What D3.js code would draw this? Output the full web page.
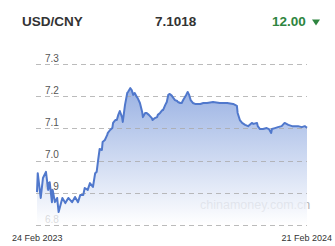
<!DOCTYPE html>
<html>
<head>
<meta charset="utf-8">
<script src="https://cdn.jsdelivr.net/npm/d3@7"></script>
<style>
  body { margin: 0; background: #fff; }
  svg { display: block; font-family: "Liberation Sans", Arial, sans-serif; }
</style>
</head>
<body>
<div id="chart"></div>
<script>
// days since 24 Feb 2023, and the USD/CNY rate on that day
var days = [0, 1, 5, 8, 12, 15, 17, 20, 21, 24, 27, 29, 34, 38, 42, 47, 51, 55, 58, 62,
  64, 68, 71, 75, 78, 80, 82, 84, 87, 88, 91, 94, 95, 98, 101, 102, 105, 107, 109, 111,
  114, 115, 118, 121, 122, 125, 127, 129, 131, 134, 135, 138, 141, 142, 145, 147, 150, 154, 155, 158,
  161, 162, 165, 168, 169, 172, 174, 176, 178, 181, 182, 185, 188, 189, 192, 194, 196, 200, 202, 204,
  206, 209, 212, 219, 223, 228, 236, 245, 255, 263, 268, 269, 272, 275, 279, 283, 288, 290, 295, 296,
  299, 303, 308, 311, 314, 315, 319, 323, 328, 332, 337, 342, 346, 350, 355, 359, 362];
var rates = [6.902, 6.961, 6.884, 6.946, 6.965, 6.909, 6.933, 6.871, 6.909, 6.871, 6.884, 6.840, 6.884, 6.868, 6.884, 6.871, 6.887, 6.871, 6.893, 6.893,
  6.915, 6.909, 6.930, 6.918, 6.961, 6.965, 7.002, 7.036, 7.033, 7.058, 7.064, 7.079, 7.086, 7.095, 7.101, 7.117, 7.126, 7.126, 7.142, 7.154,
  7.135, 7.120, 7.173, 7.210, 7.213, 7.225, 7.219, 7.204, 7.210, 7.197, 7.194, 7.179, 7.151, 7.135, 7.148, 7.148, 7.142, 7.132, 7.126, 7.132,
  7.135, 7.142, 7.148, 7.157, 7.157, 7.173, 7.182, 7.204, 7.207, 7.201, 7.197, 7.188, 7.185, 7.182, 7.179, 7.179, 7.188, 7.204, 7.213, 7.204,
  7.188, 7.179, 7.176, 7.176, 7.179, 7.179, 7.182, 7.179, 7.179, 7.176, 7.170, 7.148, 7.126, 7.117, 7.111, 7.107, 7.117, 7.114, 7.117, 7.107,
  7.098, 7.098, 7.101, 7.098, 7.086, 7.098, 7.101, 7.104, 7.107, 7.117, 7.111, 7.107, 7.107, 7.107, 7.104, 7.107, 7.102];
var yTicks = [6.8, 6.9, 7.0, 7.1, 7.2, 7.3];
var startDate = new Date(2023, 1, 24);
var dateLabels = ["24 Feb 2023", "21 Feb 2024"];
var pair = "USD/CNY", lastRate = "7.1018", change = "12.00";

var width = 335, height = 246;
var svg = d3.select("#chart").append("svg")
  .attr("width", width)
  .attr("height", height);

var data = days.map(function(d, i) {
  return { date: d3.timeDay.offset(startDate, d), rate: rates[i] };
});

var x = d3.scaleTime()
  .domain([startDate, d3.timeDay.offset(startDate, 362)])
  .range([37, 307]);
var y = d3.scaleLinear().domain([6.8, 7.3]).range([225, 64]);

// header
svg.append("text").attr("x", 22).attr("y", 26)
  .style("font-size", "13.5px").style("font-weight", "bold").attr("fill", "#333")
  .text(pair);
svg.append("text").attr("x", 155).attr("y", 26)
  .style("font-size", "13.5px").style("font-weight", "bold").attr("fill", "#333")
  .text(lastRate);
svg.append("text").attr("x", 272).attr("y", 26)
  .style("font-size", "13.5px").style("font-weight", "bold").attr("fill", "#2e8540")
  .text(change);
svg.append("path").attr("d", "M312,19.5L320,19.5L316,25.5Z").attr("fill", "#2e8540");

// tick labels sit under the area
svg.append("g").selectAll("text").data(yTicks).join("text")
  .attr("x", 45).attr("y", function(d) { return y(d) - 2.5; })
  .style("font-size", "10px").attr("fill", "#555")
  .text(function(d) { return d3.format(".1f")(d); });

// watermark
svg.append("text").attr("x", 200).attr("y", 209)
  .style("font-size", "12.5px").attr("fill", "#b4b4b4")
  .text("chinamoney.com.cn");

var defs = svg.append("defs");
var grad = defs.append("linearGradient").attr("id", "fillGrad")
  .attr("gradientUnits", "userSpaceOnUse")
  .attr("x1", 0).attr("x2", 0).attr("y1", y(7.3)).attr("y2", y(6.8));
grad.append("stop").attr("offset", "0%").attr("stop-color", "#6b8ed6");
grad.append("stop").attr("offset", "100%").attr("stop-color", "#ffffff");

var area = d3.area()
  .x(function(d) { return x(d.date); })
  .y0(y(6.8))
  .y1(function(d) { return y(d.rate); });
svg.append("path").datum(data)
  .attr("d", area)
  .attr("fill", "url(#fillGrad)")
  .attr("fill-opacity", 0.8);

// dashed grid
svg.append("g").selectAll("line").data(yTicks).join("line")
  .attr("x1", 36).attr("x2", 307)
  .attr("y1", function(d) { return Math.round(y(d)) + 0.5; })
  .attr("y2", function(d) { return Math.round(y(d)) + 0.5; })
  .attr("stroke", "#aaa").attr("stroke-opacity", 0.8)
  .attr("stroke-dasharray", "5,4");

var line = d3.line()
  .x(function(d) { return x(d.date); })
  .y(function(d) { return y(d.rate); });
svg.append("path").datum(data)
  .attr("d", line)
  .attr("fill", "none")
  .attr("stroke", "#5078cc")
  .attr("stroke-width", 2)
  .attr("stroke-linejoin", "round");

// date labels
svg.append("text").attr("x", 12).attr("y", 241)
  .style("font-size", "9px").attr("fill", "#333").text(dateLabels[0]);
svg.append("text").attr("x", 332).attr("y", 241).attr("text-anchor", "end")
  .style("font-size", "9px").attr("fill", "#333").text(dateLabels[1]);
</script>
</body>
</html>
